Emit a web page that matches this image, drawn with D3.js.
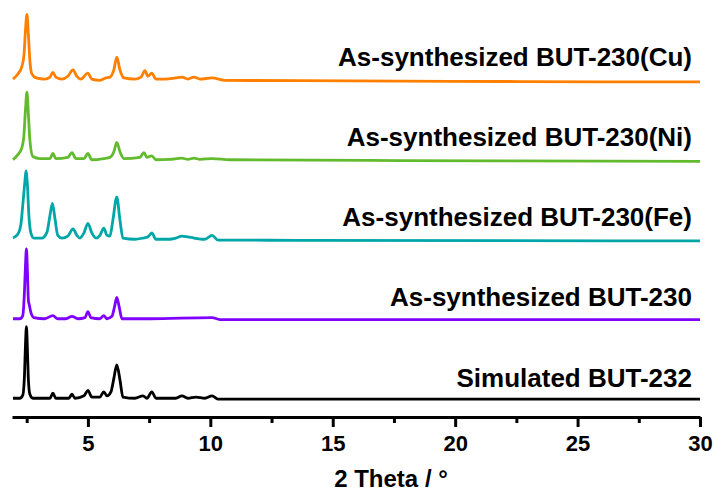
<!DOCTYPE html>
<html lang="en">
<head>
    <meta charset="utf-8">
    <script type="text/javascript" src="https://d3js.org/d3.v7.min.js"></script>
    <title>PXRD patterns</title>
    <style>
        html, body {
            margin: 0;
            padding: 0;
            background: white;
        }
        text {
            font-family: "Liberation Sans", Arial, sans-serif;
            font-weight: bold;
        }
    </style>
</head>
<body>
    <div class="div_d3"></div>

    <script type="text/javascript">

        // Series names (top to bottom in the picture) and their colours
        const seriesNames = ["As-synthesized BUT-230(Cu)", "As-synthesized BUT-230(Ni)",
                             "As-synthesized BUT-230(Fe)", "As-synthesized BUT-230", "Simulated BUT-232"];
        const seriesColors = ["#ff8000", "#62bb2e", "#00a6a8", "#8000ff", "#000000"];
        const seriesOffsets = [400, 300, 200, 100, 0];   // vertical stacking, a.u.

        // Tick values
        const majorTicks = [5, 10, 15, 20, 25, 30];
        const minorTicks = [2.5, 7.5, 12.5, 17.5, 22.5, 27.5];

        // Patterns: [2 theta, intensity a.u.]
        const patternCu = [[1.94, 2.5], [2.14, 9], [2.30, 18], [2.39, 33], [2.45, 64], [2.51, 84], [2.57, 58],
            [2.63, 26], [2.71, 9], [2.88, 4], [3.24, 2.5], [3.45, 5], [3.57, 11], [3.69, 5], [3.94, 2.5],
            [4.18, 6], [4.39, 14], [4.55, 6], [4.71, 2.5], [5.00, 10], [5.16, 2.5], [5.49, 1], [5.74, 4],
            [5.90, 5], [6.06, 14], [6.18, 30], [6.31, 14], [6.47, 4], [6.92, 2.5], [7.17, 5], [7.33, 13],
            [7.45, 6], [7.61, 10], [7.78, 2.5], [8.15, 2.5], [8.59, 4], [8.84, 5], [9.08, 2.5], [9.33, 5],
            [9.58, 2.5], [10.07, 4], [10.60, 1], [13.66, 0.5], [17.75, 0], [21.83, -0.5], [25.92, -1], [30.0, -1]];

        const patternNi = [[1.94, 1], [2.14, 7.5], [2.30, 16], [2.39, 33], [2.45, 64], [2.51, 86], [2.57, 58],
            [2.63, 26], [2.75, 5], [3.04, 2.5], [3.45, 2.5], [3.57, 9], [3.69, 2.5], [4.18, 4], [4.35, 10],
            [4.51, 2.5], [4.84, 2.5], [5.00, 9], [5.16, 1], [5.65, 2.5], [5.90, 4], [6.06, 11], [6.18, 23],
            [6.31, 11], [6.47, 2.5], [7.12, 4], [7.29, 10], [7.41, 4], [7.61, 6], [7.78, 1], [8.35, 1.5],
            [8.84, 3], [9.08, 1.5], [9.33, 3], [9.58, 1.5], [10.07, 2.5], [10.80, 1], [17.75, 0], [30.0, -1]];

        const patternFe = [[1.94, 2.5], [2.14, 7.5], [2.26, 19], [2.34, 44], [2.43, 75], [2.47, 87], [2.53, 69],
            [2.59, 31], [2.67, 9], [2.79, 2.5], [3.12, 2.5], [3.33, 10], [3.45, 31], [3.55, 46], [3.65, 28],
            [3.77, 6], [3.94, 2.5], [4.18, 5], [4.39, 14], [4.55, 6], [4.67, 2.5], [4.84, 9], [5.00, 21],
            [5.16, 9], [5.33, 2.5], [5.49, 6], [5.65, 15], [5.78, 6], [5.90, 5], [6.02, 25], [6.18, 54],
            [6.31, 25], [6.43, 2.5], [6.92, 1], [7.25, 2.5], [7.45, 4], [7.61, 9], [7.78, 1], [8.35, 1],
            [8.59, 2.5], [8.84, 5], [9.08, 4], [9.33, 2.5], [9.78, 1], [10.07, 6], [10.31, 0], [10.80, 0],
            [13.66, -0.5], [30.0, -1]];

        const patternBUT230 = [[1.94, 1], [2.22, 1], [2.34, 5], [2.41, 36], [2.45, 68], [2.49, 89], [2.53, 61],
            [2.57, 24], [2.61, 18], [2.67, 9], [2.79, 2.5], [3.24, 1], [3.57, 5], [3.77, 1], [4.10, 1],
            [4.35, 4], [4.59, 1], [4.88, 2.5], [5.00, 10], [5.12, 2.5], [5.49, 1], [5.65, 5], [5.78, 1],
            [5.98, 4], [6.08, 15], [6.18, 28], [6.29, 14], [6.39, 1], [7.53, 1], [10.07, 2.5], [10.39, 0],
            [30.0, 0]];

        const patternSim = [[1.94, 1], [2.22, 1], [2.34, 5], [2.41, 30], [2.45, 68], [2.49, 91], [2.53, 62],
            [2.57, 24], [2.63, 6], [2.75, 1], [3.45, 1], [3.57, 7.5], [3.69, 1], [4.22, 1], [4.35, 6],
            [4.47, 1], [4.84, 4], [5.00, 11], [5.16, 2.5], [5.49, 2.5], [5.65, 9], [5.78, 4], [5.94, 9],
            [6.06, 26], [6.18, 43], [6.31, 24], [6.43, 2.5], [6.92, 1], [7.25, 4], [7.41, 1], [7.61, 9],
            [7.78, 1], [8.59, 1], [8.84, 4], [9.08, 1], [9.41, 2.5], [9.78, 1], [10.07, 4], [10.31, 0],
            [30.0, 0]];

        const patterns = [patternCu, patternNi, patternFe, patternBUT230, patternSim];

        // Size of the picture
        const width = 716, height = 494;

        const svg = d3.select(".div_d3")
                      .append("svg")
                        .attr("width", width)
                        .attr("height", height)
                        .style("display", "block");

        // Scales
        const x = d3.scaleLinear()
                    .domain([1.9, 30])
                    .range([12, 700]);

        const y = d3.scaleLinear()
                    .domain([-22.6, 502])
                    .range([417, 0]);

        const axisY = y(-22.6);

        // Line generator
        const line = d3.line()
                       .x(d => x(d[0]))
                       .y(d => y(d[1]))
                       .curve(d3.curveMonotoneX);

        // Draw every pattern with its offset
        patterns.forEach((pattern, i) => {
            svg.append("path")
               .datum(pattern.map(d => [d[0], d[1] + seriesOffsets[i]]))
               .attr("fill", "none")
               .attr("stroke", seriesColors[i])
               .attr("stroke-width", 2.8)
               .attr("stroke-linejoin", "round")
               .attr("d", line);
        });

        // Labels of the patterns
        const labelBaselines = [66, 146, 226, 306, 387];
        svg.selectAll(".series-label")
           .data(seriesNames)
           .join("text")
             .attr("class", "series-label")
             .attr("x", 692)
             .attr("y", (d, i) => labelBaselines[i])
             .attr("text-anchor", "end")
             .style("font-size", "26px")
             .style("fill", "black")
             .text(d => d);

        // Minor ticks (no labels)
        const minorAxis = svg.append("g")
            .attr("transform", `translate(0, ${axisY})`)
            .call(d3.axisBottom(x).tickValues(minorTicks).tickSize(6).tickSizeOuter(0).tickFormat(""));
        minorAxis.select(".domain").remove();
        minorAxis.selectAll(".tick line").attr("stroke-width", 3);

        // Main x axis
        const xAxis = svg.append("g")
            .attr("transform", `translate(0, ${axisY})`)
            .call(d3.axisBottom(x).tickValues(majorTicks).tickSize(10).tickPadding(8).tickSizeOuter(0));
        xAxis.select(".domain").attr("stroke-width", 3);
        xAxis.selectAll(".tick line").attr("stroke-width", 3);
        xAxis.selectAll(".tick text")
             .style("font-size", "22px")
             .style("font-family", "'Liberation Sans', Arial, sans-serif")
             .style("font-weight", "bold");

        // Axis title
        svg.append("text")
           .attr("x", 391)
           .attr("y", 487)
           .attr("text-anchor", "middle")
           .style("font-size", "24px")
           .text("2 Theta / \u00b0");

    </script>
</body>
</html>
